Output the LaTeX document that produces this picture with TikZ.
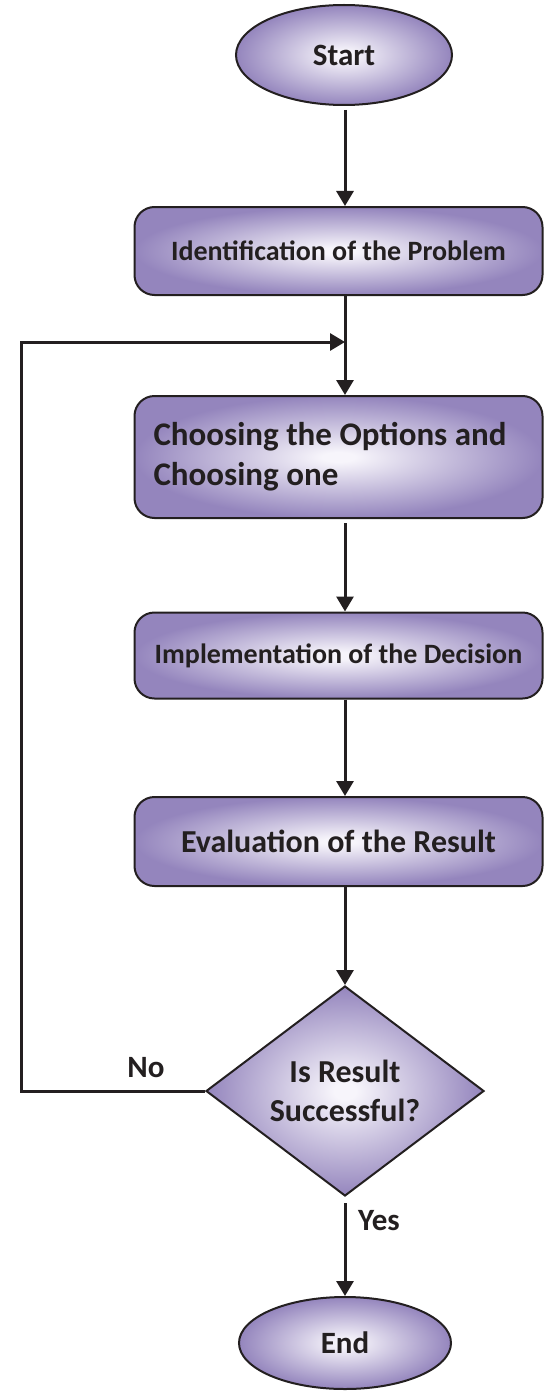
\documentclass[tikz,border=0pt]{standalone}
\usepackage{fontspec}
\setmainfont{Carlito}
\usetikzlibrary{shapes.geometric,arrows.meta}

\definecolor{shadein}{RGB}{247,245,251}
\definecolor{shadeout}{RGB}{148,133,189}
\definecolor{ink}{RGB}{35,31,32}
\pgfdeclareradialshading{flowshade}{\pgfpoint{0bp}{0bp}}{color(0bp)=(shadein); color(2bp)=(shadein); color(25bp)=(shadeout); color(50bp)=(shadeout)}

\tikzset{
    flowbox/.style={draw=ink, line width=2pt, rounded corners=20pt, shading=flowshade,
        minimum width=408pt, inner sep=0pt, text=ink},
    terminal/.style={ellipse, draw=ink, line width=2pt, shading=flowshade, inner sep=0pt,
        text=ink, font=\bfseries\fontsize{31}{37}\selectfont},
    decision/.style={diamond, draw=ink, line width=2pt, shading=flowshade, inner sep=0pt,
        minimum width=278pt, minimum height=210pt, aspect=1.32, align=center, text=ink,
        font=\bfseries\fontsize{32}{39}\selectfont},
    flow/.style={draw=ink, line width=3pt, -{Triangle[width=17pt,length=15pt]}},
    lbl/.style={anchor=base, text=ink, font=\bfseries\fontsize{31}{37}\selectfont},
}

\begin{document}
\begin{tikzpicture}[x=1pt, y=-1pt]
    \useasboundingbox (0,0) rectangle (544,1391);

    % Terminals
    \node[terminal, minimum width=216pt, minimum height=100pt] (start) at (344,55) {Start};
    \node[terminal, minimum width=212pt, minimum height=92pt] (stop) at (345,1343) {End};

    % Steps
    \node[flowbox, minimum height=88pt, font=\bfseries\fontsize{28}{34}\selectfont]
        (ident) at (338.5,251) {Identification of the Problem};
    \node[flowbox, minimum height=122pt, text width=370pt, inner xsep=19pt, align=left,
        font=\bfseries\fontsize{33}{40}\selectfont]
        (choose) at (338.5,457) {\spaceskip=0pt Choosing the Options and\\Choosing one};
    \node[flowbox, minimum height=86pt, font=\bfseries\fontsize{28}{34}\selectfont]
        (implement) at (338.5,655.5) {Implementation of the Decision};
    \node[flowbox, minimum height=89pt, font=\bfseries\fontsize{32}{38}\selectfont]
        (evaluate) at (338.5,841.5) {Evaluation of the Result};

    % Decision
    \node[decision] (check) at (345,1091) {Is Result\\Successful?};

    % Loop points
    \coordinate (join) at (345,342);
    \coordinate (turn) at (21,1091);

    % Connectors
    \draw[flow, shorten <=4pt] (start.south -| join) -- (ident.north -| join);
    \draw[flow] (ident.south -| join) -- (choose.north -| join);
    \draw[flow, shorten <=4pt] (choose.south -| join) -- (implement.north -| join);
    \draw[flow] (implement.south -| join) -- (evaluate.north -| join);
    \draw[flow] (evaluate.south -| join) -- (check.north);
    \draw[flow, shorten <=6pt] (check.south) -- (stop.north);
    \draw[flow] (check.west) -- (turn) |- (join);

    % Labels
    \node[lbl] (nolbl) at (146,1077) {No};
    \node[lbl] (yeslbl) at (379,1230) {Yes};
\end{tikzpicture}
\end{document}
